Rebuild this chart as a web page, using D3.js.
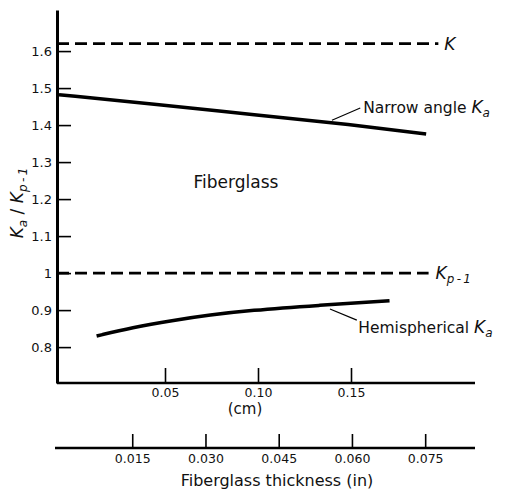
<!DOCTYPE html>
<html>
<head>
<meta charset="utf-8">
<script src="https://cdn.jsdelivr.net/npm/d3@7"></script>
<style>
  body { margin: 0; background: #fff; }
  svg text { font-family: "DejaVu Sans", sans-serif; fill: #111; }
</style>
</head>
<body>
<svg id="chart" width="505" height="492"></svg>
<script>
// values (x in inches of fiberglass thickness)
var narrowX = [0, 0.02, 0.04, 0.06, 0.0752];
var narrowY = [1.482, 1.456, 1.428, 1.401, 1.376];

var hemiX = [0.0077, 0.015, 0.0232, 0.031, 0.0389, 0.0532, 0.0677];
var hemiY = [0.830, 0.853, 0.872, 0.887, 0.899, 0.913, 0.925];

var kValue = 1.62, kEnd = 0.0777;
var kp1Value = 1.0, kp1End = 0.0757;

var yTicks = [0.8, 0.9, 1, 1.1, 1.2, 1.3, 1.4, 1.5, 1.6];
var yTickLabels = ["0.8", "0.9", "1", "1.1", "1.2", "1.3", "1.4", "1.5", "1.6"];
var cmTicks = [0.05, 0.10, 0.15];
var cmTickLabels = ["0.05", "0.10", "0.15"];
var inTicks = [0.015, 0.030, 0.045, 0.060, 0.075];
var inTickLabels = ["0.015", "0.030", "0.045", "0.060", "0.075"];

var svg = d3.select("#chart");
var plotLeft = 57, plotRight = 474, plotTop = 10, plotBottom = 383, inAxisY = 448;

var y = d3.scaleLinear().domain([0.703, 1.711]).range([plotBottom, plotTop]);
var xIn = d3.scaleLinear().domain([0, 0.085]).range([59, 474]);
var xCm = d3.scaleLinear().domain([0, 0.2]).range([72, 444]);

// y axis, ticks pointing inward
var yAxis = svg.append("g")
  .attr("transform", "translate(" + plotLeft + ",0)")
  .call(d3.axisLeft(y).tickValues(yTicks)
    .tickFormat(function(d, i) { return yTickLabels[i]; })
    .tickSize(-14).tickSizeOuter(0).tickPadding(5));
yAxis.select(".domain").attr("stroke-width", 3);
yAxis.selectAll(".tick line").attr("stroke-width", 1.6);
yAxis.selectAll("text").style("font-size", "13px");

// bottom frame line + cm ticks
svg.append("line")
  .attr("x1", plotLeft).attr("x2", plotRight + 1)
  .attr("y1", plotBottom).attr("y2", plotBottom)
  .attr("stroke", "#000").attr("stroke-width", 2.5);

var cmAxis = svg.append("g")
  .attr("transform", "translate(0," + plotBottom + ")")
  .call(d3.axisBottom(xCm).tickValues(cmTicks)
    .tickFormat(function(d, i) { return cmTickLabels[i]; })
    .tickSize(-15).tickPadding(5));
cmAxis.select(".domain").remove();
cmAxis.selectAll(".tick line").attr("stroke-width", 1.6);
cmAxis.selectAll("text").style("font-size", "12.5px");

svg.append("text")
  .attr("x", 245).attr("y", 414)
  .attr("text-anchor", "middle")
  .style("font-size", "15px")
  .text("(cm)");

// inch axis
svg.append("line")
  .attr("x1", plotLeft - 2).attr("x2", plotRight + 1)
  .attr("y1", inAxisY).attr("y2", inAxisY)
  .attr("stroke", "#000").attr("stroke-width", 2.5);

var inAxis = svg.append("g")
  .attr("transform", "translate(0," + inAxisY + ")")
  .call(d3.axisBottom(xIn).tickValues(inTicks)
    .tickFormat(function(d, i) { return inTickLabels[i]; })
    .tickSize(-14).tickPadding(6));
inAxis.select(".domain").remove();
inAxis.selectAll(".tick line").attr("stroke-width", 1.6);
inAxis.selectAll("text").style("font-size", "12.5px");

svg.append("text")
  .attr("x", 277).attr("y", 486)
  .attr("text-anchor", "middle")
  .style("font-size", "16px")
  .text("Fiberglass thickness (in)");

// dashed reference lines
svg.append("line")
  .attr("x1", plotLeft).attr("x2", xIn(kEnd))
  .attr("y1", y(kValue)).attr("y2", y(kValue))
  .attr("stroke", "#000").attr("stroke-width", 2.6)
  .attr("stroke-dasharray", "12,6");
svg.append("line")
  .attr("x1", plotLeft).attr("x2", xIn(kp1End))
  .attr("y1", y(kp1Value)).attr("y2", y(kp1Value))
  .attr("stroke", "#000").attr("stroke-width", 2.6)
  .attr("stroke-dasharray", "12,6");

// curves
var line = d3.line()
  .x(function(d) { return xIn(d[0]); })
  .y(function(d) { return y(d[1]); })
  .curve(d3.curveBasis);

svg.append("path")
  .datum(d3.zip(narrowX, narrowY))
  .attr("d", line)
  .attr("fill", "none").attr("stroke", "#000").attr("stroke-width", 3.5);

svg.append("path")
  .datum(d3.zip(hemiX, hemiY))
  .attr("d", line)
  .attr("fill", "none").attr("stroke", "#000").attr("stroke-width", 3.5);

// labels
function kLabel(x, yy, sub, size) {
  var t = svg.append("text").attr("x", x).attr("y", yy).style("font-size", size + "px");
  t.append("tspan").style("font-style", "italic").text("K");
  if (sub) {
    t.append("tspan").attr("dy", 4).style("font-style", "italic")
      .style("font-size", (size * 0.7) + "px").text(sub);
  }
  return t;
}

kLabel(xIn(kEnd) + 6, y(kValue) + 6, null, 17);
kLabel(xIn(kp1End) + 7, y(kp1Value) + 6, "p\u2009-\u20091", 17);

svg.append("line")
  .attr("x1", xIn(0.0559)).attr("y1", y(1.413))
  .attr("x2", xIn(0.0617)).attr("y2", y(1.446))
  .attr("stroke", "#000").attr("stroke-width", 1.2);
var nl = svg.append("text").attr("x", xIn(0.0623)).attr("y", y(1.432)).style("font-size", "15.5px");
nl.append("tspan").text("Narrow angle ");
nl.append("tspan").style("font-style", "italic").style("font-size", "17px").text("K");
nl.append("tspan").attr("dy", 4).style("font-style", "italic").style("font-size", "12px").text("a");

svg.append("line")
  .attr("x1", xIn(0.0555)).attr("y1", y(0.903))
  .attr("x2", xIn(0.0610)).attr("y2", y(0.873))
  .attr("stroke", "#000").attr("stroke-width", 1.2);
var hl = svg.append("text").attr("x", xIn(0.0613)).attr("y", y(0.839)).style("font-size", "15.5px");
hl.append("tspan").text("Hemispherical ");
hl.append("tspan").style("font-style", "italic").style("font-size", "17px").text("K");
hl.append("tspan").attr("dy", 4).style("font-style", "italic").style("font-size", "12px").text("a");

svg.append("text")
  .attr("x", 236).attr("y", 188)
  .attr("text-anchor", "middle")
  .style("font-size", "17px")
  .text("Fiberglass");

// y axis title
var yt = svg.append("text")
  .attr("transform", "translate(23,203) rotate(-90)")
  .attr("text-anchor", "middle")
  .style("font-size", "17px");
yt.append("tspan").style("font-style", "italic").text("K");
yt.append("tspan").attr("dy", 4).style("font-style", "italic").style("font-size", "12px").text("a");
yt.append("tspan").attr("dy", -4).text(" / ");
yt.append("tspan").style("font-style", "italic").text("K");
yt.append("tspan").attr("dy", 4).style("font-style", "italic").style("font-size", "12px").text("p\u2009-\u20091");
</script>
</body>
</html>
